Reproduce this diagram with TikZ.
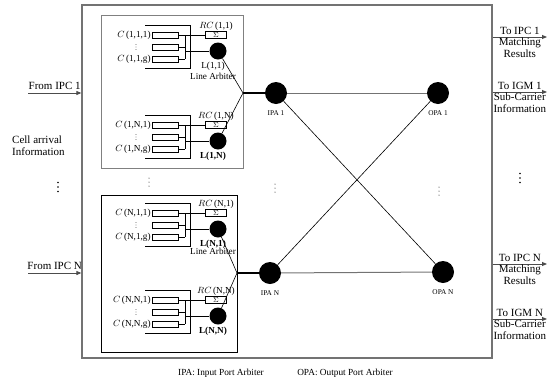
\documentclass[tikz,border=0pt]{standalone}
\usepackage{fontspec}
\setmainfont{Liberation Serif}
\usetikzlibrary{arrows.meta,calc}

\begin{document}
\begin{tikzpicture}[x=1pt, y=-1pt, >={Triangle[length=5pt,width=4pt]},
    buf/.style={draw, minimum width=26pt, minimum height=6pt, inner sep=0pt},
    sumbox/.style={draw, minimum width=21pt, minimum height=7pt, inner sep=0pt,
      font=\fontsize{7}{7}\selectfont},
    arb/.style={circle, fill=black, inner sep=0pt, minimum size=#1},
    port/.style={font=\fontsize{7.3}{8}\selectfont, inner sep=1pt},
    inlbl/.style={font=\fontsize{9.2}{9.5}\selectfont, inner sep=1pt},
    side/.style={font=\fontsize{11}{12}\selectfont, inner sep=1pt, align=left},
    frameline/.style={draw=black!55, line width=1.3pt}]
  \useasboundingbox (0,0) rectangle (552,381);

  % Boxes
  \node[frameline, minimum width=410pt, minimum height=353pt, inner sep=0pt] (frame) at (287,181.5) {};
  \node[draw=black!50, line width=1pt, minimum width=142pt, minimum height=153pt, inner sep=0pt] (upper) at (172,91.5) {};
  \node[draw, line width=0.7pt, minimum width=136pt, minimum height=157pt, inner sep=0pt] (lower) at (169,273.5) {};

  % Line arbiter groups
  \foreach \y/\g/\lab/\f in {25/a/{1,1}/\mdseries, 115/b/{1,N}/\bfseries,
                             203/c/{N,1}/\bfseries, 290/d/{N,N}/\bfseries} {
    \draw (145,\y) -- (190,\y) -- (190,\y+43) -- (145,\y+43);
    \node[buf] (q\g1) at (165,\y+10) {};
    \node[buf] (q\g2) at (165,\y+22) {};
    \node[buf] (q\g3) at (165,\y+34) {};
    \node[sumbox] (s\g) at (216,\y+10) {$\Sigma$};
    \node[arb=17pt] (L\g) at (218,\y+26) {};
    \coordinate (bt\g) at (185,\y+10);
    \coordinate (bb\g) at (185,\y+34);
    \draw (q\g1.east) -- (s\g.west);
    \draw (q\g2.east) -- (q\g2.east -| bt\g);
    \draw (q\g3.east) -- (bb\g);
    \draw (bt\g) -- (bb\g);
    \draw (L\g.west -| bt\g) -- (L\g.west);
    \node[inlbl, left] at (q\g1.west) {$C$\,(\lab,1)};
    \foreach \d in {-2.5,0,2.5} \fill (136,\y+22+\d) circle (0.4);
    \node[inlbl, left] at (q\g3.west) {$C$\,(\lab,g)};
    \node[inlbl, above] at (s\g.north) {$RC$\,(\lab)};
    \node[inlbl, below=1pt, xshift=-5pt] (ll\g) at (L\g.south) {\f L(\lab)};
  }
  \node[inlbl, below=0pt] at (lla.south) {Line Arbiter};
  \node[inlbl, below=-2.5pt] at (llc.south) {Line Arbiter};

  % Dots between rows
  \foreach \x/\y in {149/182, 275/188, 439/191}
    \foreach \d in {-4,0,4} \fill (\x,\y+\d) circle (0.5);
  \foreach \x/\y in {58/187, 520/178}
    \foreach \d in {-4.5,0,4.5} \fill (\x,\y+\d) circle (0.8);

  % Port arbiters
  \coordinate (j1) at (243,93);
  \coordinate (jn) at (237,273);
  \node[arb=22pt] (ipa1) at (276,93) {};
  \node[arb=22pt] (ipan) at (270,273) {};
  \node[arb=22pt] (opa1) at (438,93) {};
  \node[arb=22pt] (opan) at (443,272) {};
  \node[port, below=5pt] at (ipa1.south) {IPA 1};
  \node[port, below=5pt] at (ipan.south) {IPA N};
  \node[port, below=5pt] at (opa1.south) {OPA 1};
  \node[port, below=5pt] at (opan.south) {OPA N};

  \draw[line width=0.6pt] (La) -- (j1) -- (Lb);
  \draw[line width=0.6pt] (Lc) -- (jn) -- (Ld);
  \draw[line width=1.6pt] (j1) -- (ipa1);
  \draw[line width=1.6pt] (jn) -- (ipan);
  \draw[black!55, line width=1pt] (ipa1) -- (opa1);
  \draw[black!55, line width=1pt] (ipan) -- (opan);
  \draw[line width=0.6pt] (ipa1) -- (opan);
  \draw[line width=0.6pt] (ipan) -- (opa1);

  % Inputs
  \coordinate (in1) at (28,93);
  \coordinate (inn) at (28,273);
  \draw[->, black!70, line width=0.9pt] (in1) -- (in1 -| frame.west)
    node[side, midway, above=2pt, text=black] {From IPC 1};
  \draw[->, black!70, line width=0.9pt] (inn) -- (inn -| frame.west)
    node[side, midway, above=2pt, text=black] {From IPC N};
  \node[side, anchor=west] (cell) at (11,146) {Cell arrival\\Information};

  % Outputs
  \coordinate (o1) at (547,37);
  \coordinate (o2) at (547,92);
  \coordinate (o3) at (547,264);
  \coordinate (o4) at (547,319);
  \draw[->, black!70, line width=0.9pt] (o1 -| frame.east) -- (o1)
    node[side, midway, above=1pt, text=black] {To IPC 1};
  \draw[->, black!70, line width=0.9pt] (o2 -| frame.east) -- (o2)
    node[side, midway, above=1pt, text=black] {To IGM 1};
  \draw[->, black!70, line width=0.9pt] (o3 -| frame.east) -- (o3)
    node[side, midway, above=1pt, text=black] {To IPC N};
  \draw[->, black!70, line width=0.9pt] (o4 -| frame.east) -- (o4)
    node[side, midway, above=1pt, text=black] {To IGM N};
  \node[side, below=0pt, align=center] at ($(o1 -| frame.east)!0.5!(o1)$) {Matching\\Results};
  \node[side, below=0pt, align=center] at ($(o2 -| frame.east)!0.5!(o2)$) {Sub-Carrier\\Information};
  \node[side, below=0pt, align=center] at ($(o3 -| frame.east)!0.5!(o3)$) {Matching\\Results};
  \node[side, below=0pt, align=center] at ($(o4 -| frame.east)!0.5!(o4)$) {Sub-Carrier\\Information};

  % Legend
  \node[font=\fontsize{9.3}{10}\selectfont] (leg1) at (221,373) {IPA: Input Port Arbiter};
  \node[font=\fontsize{9.3}{10}\selectfont] (leg2) at (345,373) {OPA: Output Port Arbiter};
\end{tikzpicture}
\end{document}
